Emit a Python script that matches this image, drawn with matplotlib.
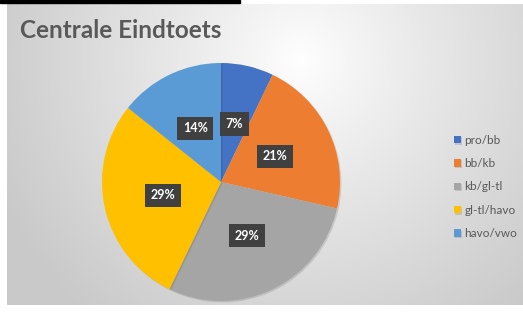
import numpy as np
import matplotlib
matplotlib.use('Agg')
import matplotlib.pyplot as plt
from matplotlib.patches import Rectangle
import matplotlib.patheffects as pe

# data
categories = ['pro/bb', 'bb/kb', 'kb/gl-tl', 'gl-tl/havo', 'havo/vwo']
counts = [1, 3, 4, 4, 2]
colors = ['#4472C4', '#ED7D31', '#A5A5A5', '#FFC000', '#5B9BD5']
title = 'Centrale Eindtoets'

plt.rcParams['font.family'] = ['Lato', 'DejaVu Sans']

W, H = 523, 314
fig = plt.figure(figsize=(W / 100, H / 100), dpi=100)
fig.patch.set_facecolor('white')

# background chart area with radial gradient
x0, x1, y0, y1 = 7, 523, 4, 305
bg = fig.add_axes([x0 / W, 1 - y1 / H, (x1 - x0) / W, (y1 - y0) / H])
bg.set_axis_off()
yy, xx = np.mgrid[y0:y1, x0:x1]
d = np.hypot((xx - 300) / 330, (yy - 60) / 330)
d = np.clip(d, 0, 1)
light = 1.0 - 0.21 * d ** 0.9
img = np.dstack([light, light, light])
bg.imshow(img, aspect='auto', extent=(0, 1, 0, 1), origin='upper')

# black line at top
fig.patches.append(Rectangle((0, 1 - 3 / H), 240 / W, 3 / H,
                             transform=fig.transFigure, color='black'))

# pie
cx, cy, r = 221, 182, 119
ax = fig.add_axes([(cx - r) / W, 1 - (cy + r) / H, 2 * r / W, 2 * r / H])
wedges, texts, autotexts = ax.pie(
    counts, colors=colors, startangle=90, counterclock=False,
    autopct=lambda p: f'{p:.0f}%', pctdistance=0.5,
    wedgeprops=dict(linewidth=0),
    textprops=dict(color='white', fontsize=9, fontweight='bold'))
ax.set_xlim(-1, 1)
ax.set_ylim(-1, 1)
for w in wedges:
    w.set_path_effects([pe.SimplePatchShadow(offset=(1, -1), alpha=0.15), pe.Normal()])
for t in autotexts:
    t.set_bbox(dict(boxstyle='square,pad=0.45', facecolor='#404040', edgecolor='none'))

# title
fig.text(20 / W, 1 - 38 / H, title, fontsize=17.5, fontweight='bold', color='#595959',
         ha='left', va='baseline')

# legend
fig.legend(wedges, categories, loc='upper left',
           bbox_to_anchor=(443 / W, 1 - 124 / H), frameon=False,
           handlelength=0.6, handleheight=0.6, handletextpad=0.3,
           labelspacing=1.05, fontsize=8.5, labelcolor='#595959')

fig.savefig('out.png', dpi=100)
